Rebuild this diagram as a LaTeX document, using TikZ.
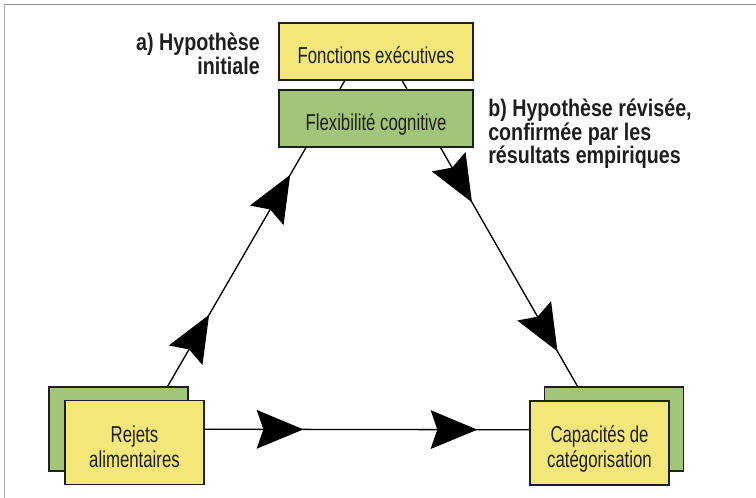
\documentclass[tikz,border=0pt]{standalone}
\usepackage{fontspec}
\usetikzlibrary{arrows.meta,decorations.markings,calc}
\newfontfamily\boxfont{Liberation Sans}[FakeStretch=0.73]
\newfontfamily\labfont{Liberation Sans Bold}[FakeStretch=0.82]
\definecolor{boxyellow}{RGB}{243,231,122}
\definecolor{boxgreen}{RGB}{162,197,122}
\definecolor{ink}{RGB}{30,30,30}
\begin{document}
\begin{tikzpicture}[x=0.75pt,y=-0.75pt,
  boxbase/.style={draw=ink,line width=1.1pt,inner sep=0pt,minimum width=104.25pt,minimum height=63pt},
  ybox/.style={boxbase,fill=boxyellow},
  gbox/.style={boxbase,fill=boxgreen},
  wide/.style={minimum width=145.5pt,minimum height=42.75pt},
  boxtext/.style={font=\boxfont\fontsize{17.25pt}{18.75pt}\selectfont,text=ink,inner sep=0pt,align=center},
  labtext/.style={font=\labfont\fontsize{18pt}{17.8pt}\selectfont,text=ink,inner sep=0pt},
  conn/.style={draw=black,line width=1pt},
  bigarrow/.tip={Stealth[length=35pt,width=29pt,inset=5pt]}
]
\useasboundingbox (0,0) rectangle (756,498);
% frame
\draw[color={rgb,255:red,140;green,140;blue,140},line width=1.1pt] (4,4.5) -- (756,4.5);
\draw[color={rgb,255:red,170;green,170;blue,170},line width=1.1pt] (4.5,4) -- (4.5,498);

% box centres
\coordinate (cfonc) at (376,51.5);
\coordinate (cflex) at (376,118.5);
\coordinate (crejg) at (118.5,429);
\coordinate (crej) at (134.5,442.5);
\coordinate (ccapg) at (614,429);
\coordinate (ccap) at (599.5,443);

% invisible anchors to compute connector ends
\path node[boxbase,draw=none,wide] (fonc0) at (cfonc) {}
      node[boxbase,draw=none] (rejg0) at (crejg) {}
      node[boxbase,draw=none] (capg0) at (ccapg) {}
      node[boxbase,draw=none] (rej0) at (crej) {}
      node[boxbase,draw=none] (cap0) at (ccap) {};

\coordinate (lA) at ($(rejg0.north west)!0.85!(rejg0.north east)$);
\coordinate (lB) at ($(fonc0.south west)!0.34!(fonc0.south east)$);
\coordinate (rA) at ($(fonc0.south west)!0.634!(fonc0.south east)$);
\coordinate (rB) at ($(capg0.north west)!0.24!(capg0.north east)$);
\coordinate (bA) at ($(rej0.north east)!0.345!(rej0.south east)$);
\coordinate (bB) at ($(cap0.north west)!0.345!(cap0.south west)$);

% connectors
\draw[conn,postaction={decorate},decoration={markings,
  mark=at position 0.234 with {\arrow{bigarrow}},
  mark=at position 0.692 with {\arrow{bigarrow}}}] (lA) -- (lB);
\draw[conn,postaction={decorate},decoration={markings,
  mark=at position 0.398 with {\arrow{bigarrow}},
  mark=at position 0.886 with {\arrow{bigarrow}}}] (rA) -- (rB);
\draw[conn,postaction={decorate},decoration={markings,
  mark=at position 0.304 with {\arrow{bigarrow}},
  mark=at position 0.84 with {\arrow{bigarrow}}}] (bA) -- (bB);

% boxes
\node[ybox,wide] (fonc) at (cfonc) {};
\node[gbox,wide] (flex) at (cflex) {};
\node[gbox] (rejg) at (crejg) {};
\node[ybox] (rej) at (crej) {};
\node[gbox] (capg) at (ccapg) {};
\node[ybox] (cap) at (ccap) {};

% texts
\node[boxtext,anchor=base] (fonct) at (376,64) {Fonctions exécutives};
\node[boxtext,anchor=base] (flext) at (376,131) {Flexibilité cognitive};
\node[boxtext] (rejt) at (134.5,446.5) {Rejets\\alimentaires};
\node[boxtext] (capt) at (599.5,448.5) {Capacités de\\catégorisation};

\node[labtext,align=right,anchor=north east] (la) at (260,32.5) {a) Hypothèse\\initiale};
\node[labtext,align=left,anchor=north west] (lb) at (488,98.5) {b) Hypothèse révisée,\\confirmée par les\\résultats empiriques};
\end{tikzpicture}
\end{document}
